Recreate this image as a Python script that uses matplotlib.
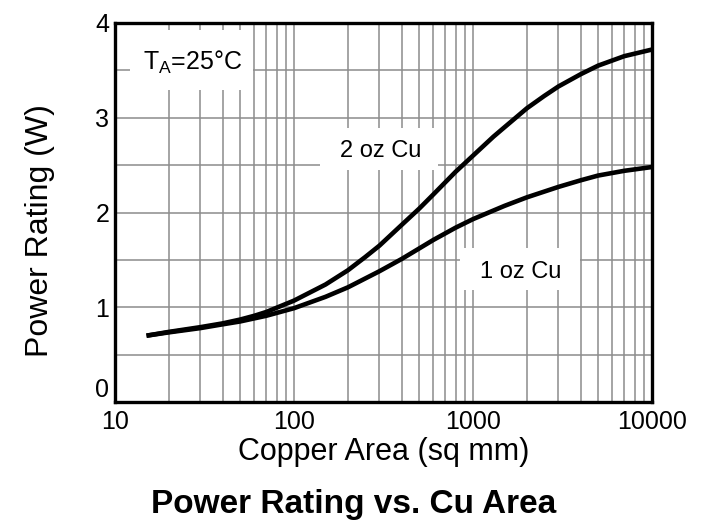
import numpy as np
import matplotlib
matplotlib.use("Agg")
import matplotlib.pyplot as plt
from matplotlib.patches import Rectangle
from matplotlib.ticker import LogLocator, FixedLocator, NullFormatter

plt.rcParams['font.family'] = ['Liberation Sans', 'DejaVu Sans']

# values
area_2oz = [15, 20, 30, 40, 50, 60, 70, 100, 150, 200, 250, 300, 400, 500, 600, 800,
            1000, 1300, 1500, 2000, 2500, 3000, 4000, 5000, 7000, 10000]
power_2oz = [0.70, 0.74, 0.79, 0.83, 0.87, 0.91, 0.95, 1.07, 1.24, 1.39, 1.53, 1.65, 1.87, 2.04, 2.19, 2.43,
             2.60, 2.80, 2.90, 3.10, 3.23, 3.33, 3.46, 3.55, 3.65, 3.72]
area_1oz = [15, 20, 30, 40, 50, 70, 100, 150, 200, 300, 400, 500, 600, 800,
            1000, 1500, 2000, 3000, 4000, 5000, 7000, 10000]
power_1oz = [0.70, 0.735, 0.78, 0.82, 0.85, 0.91, 0.99, 1.11, 1.21, 1.38, 1.51, 1.62, 1.71, 1.84,
             1.93, 2.07, 2.16, 2.27, 2.34, 2.39, 2.44, 2.48]
yticks = [0, 1, 2, 3, 4]
xticks = [10, 100, 1000, 10000]

W, H = 707, 524
fig = plt.figure(figsize=(W / 100, H / 100), dpi=100)
ax = fig.add_axes([115 / W, 1 - 402 / H, (652 - 115) / W, (402 - 23) / H])

ax.set_xscale('log')
ax.set_xlim(10, 10000)
ax.set_ylim(0, 4)

ax.xaxis.set_major_locator(FixedLocator(xticks))
ax.xaxis.set_minor_locator(LogLocator(base=10, subs=np.arange(2, 10)))
ax.xaxis.set_minor_formatter(NullFormatter())
ax.set_xticklabels([str(v) for v in xticks])
ax.yaxis.set_major_locator(FixedLocator(yticks))
ax.yaxis.set_minor_locator(FixedLocator([0.5, 1.5, 2.5, 3.5]))
ax.set_yticklabels([str(v) for v in yticks])

ax.grid(True, which='both', color='#8c8c8c', lw=1.1, zorder=0)
ax.tick_params(which='both', length=0, labelsize=18)
ax.tick_params(axis='y', pad=4)
ax.tick_params(axis='x', pad=6)
ax.get_yticklabels()[0].set_va('bottom')

for s in ax.spines.values():
    s.set_linewidth(2.4)
    s.set_color('black')
    s.set_zorder(5)

ax.plot(area_2oz, power_2oz, color='black', lw=3.3, solid_capstyle='butt',
        solid_joinstyle='round', zorder=4)
ax.plot(area_1oz, power_1oz, color='black', lw=3.3, solid_capstyle='butt',
        solid_joinstyle='round', zorder=4)

# white label boxes (pixel boxes from the reference), label text on top
def label_box(x0, y0, x1, y1, tx, ty, txt, size):
    ax.add_patch(Rectangle((x0 / W, 1 - y1 / H), (x1 - x0) / W, (y1 - y0) / H,
                           transform=fig.transFigure, facecolor='white',
                           edgecolor='none', zorder=3))
    ax.text(tx / W, 1 - ty / H, txt, transform=fig.transFigure, fontsize=size,
            ha='center', va='baseline', zorder=3.5)

label_box(130, 30, 253, 90, 193, 70, r'T$_\mathregular{A}$=25°C', 18)
label_box(320, 128, 438, 170, 381, 157, '2 oz Cu', 17)
label_box(460, 248, 580, 290, 521, 278, '1 oz Cu', 17)

ax.set_ylabel('Power Rating (W)', fontsize=23)
ax.yaxis.set_label_coords((55 - 115) / 537, (402 - 231) / 379)
ax.set_xlabel('Copper Area (sq mm)', fontsize=22, labelpad=2)
fig.text(0.5, 0.037, 'Power Rating vs. Cu Area', fontsize=24, fontweight='bold',
         ha='center', va='center')

fig.savefig('out.png', dpi=100)
